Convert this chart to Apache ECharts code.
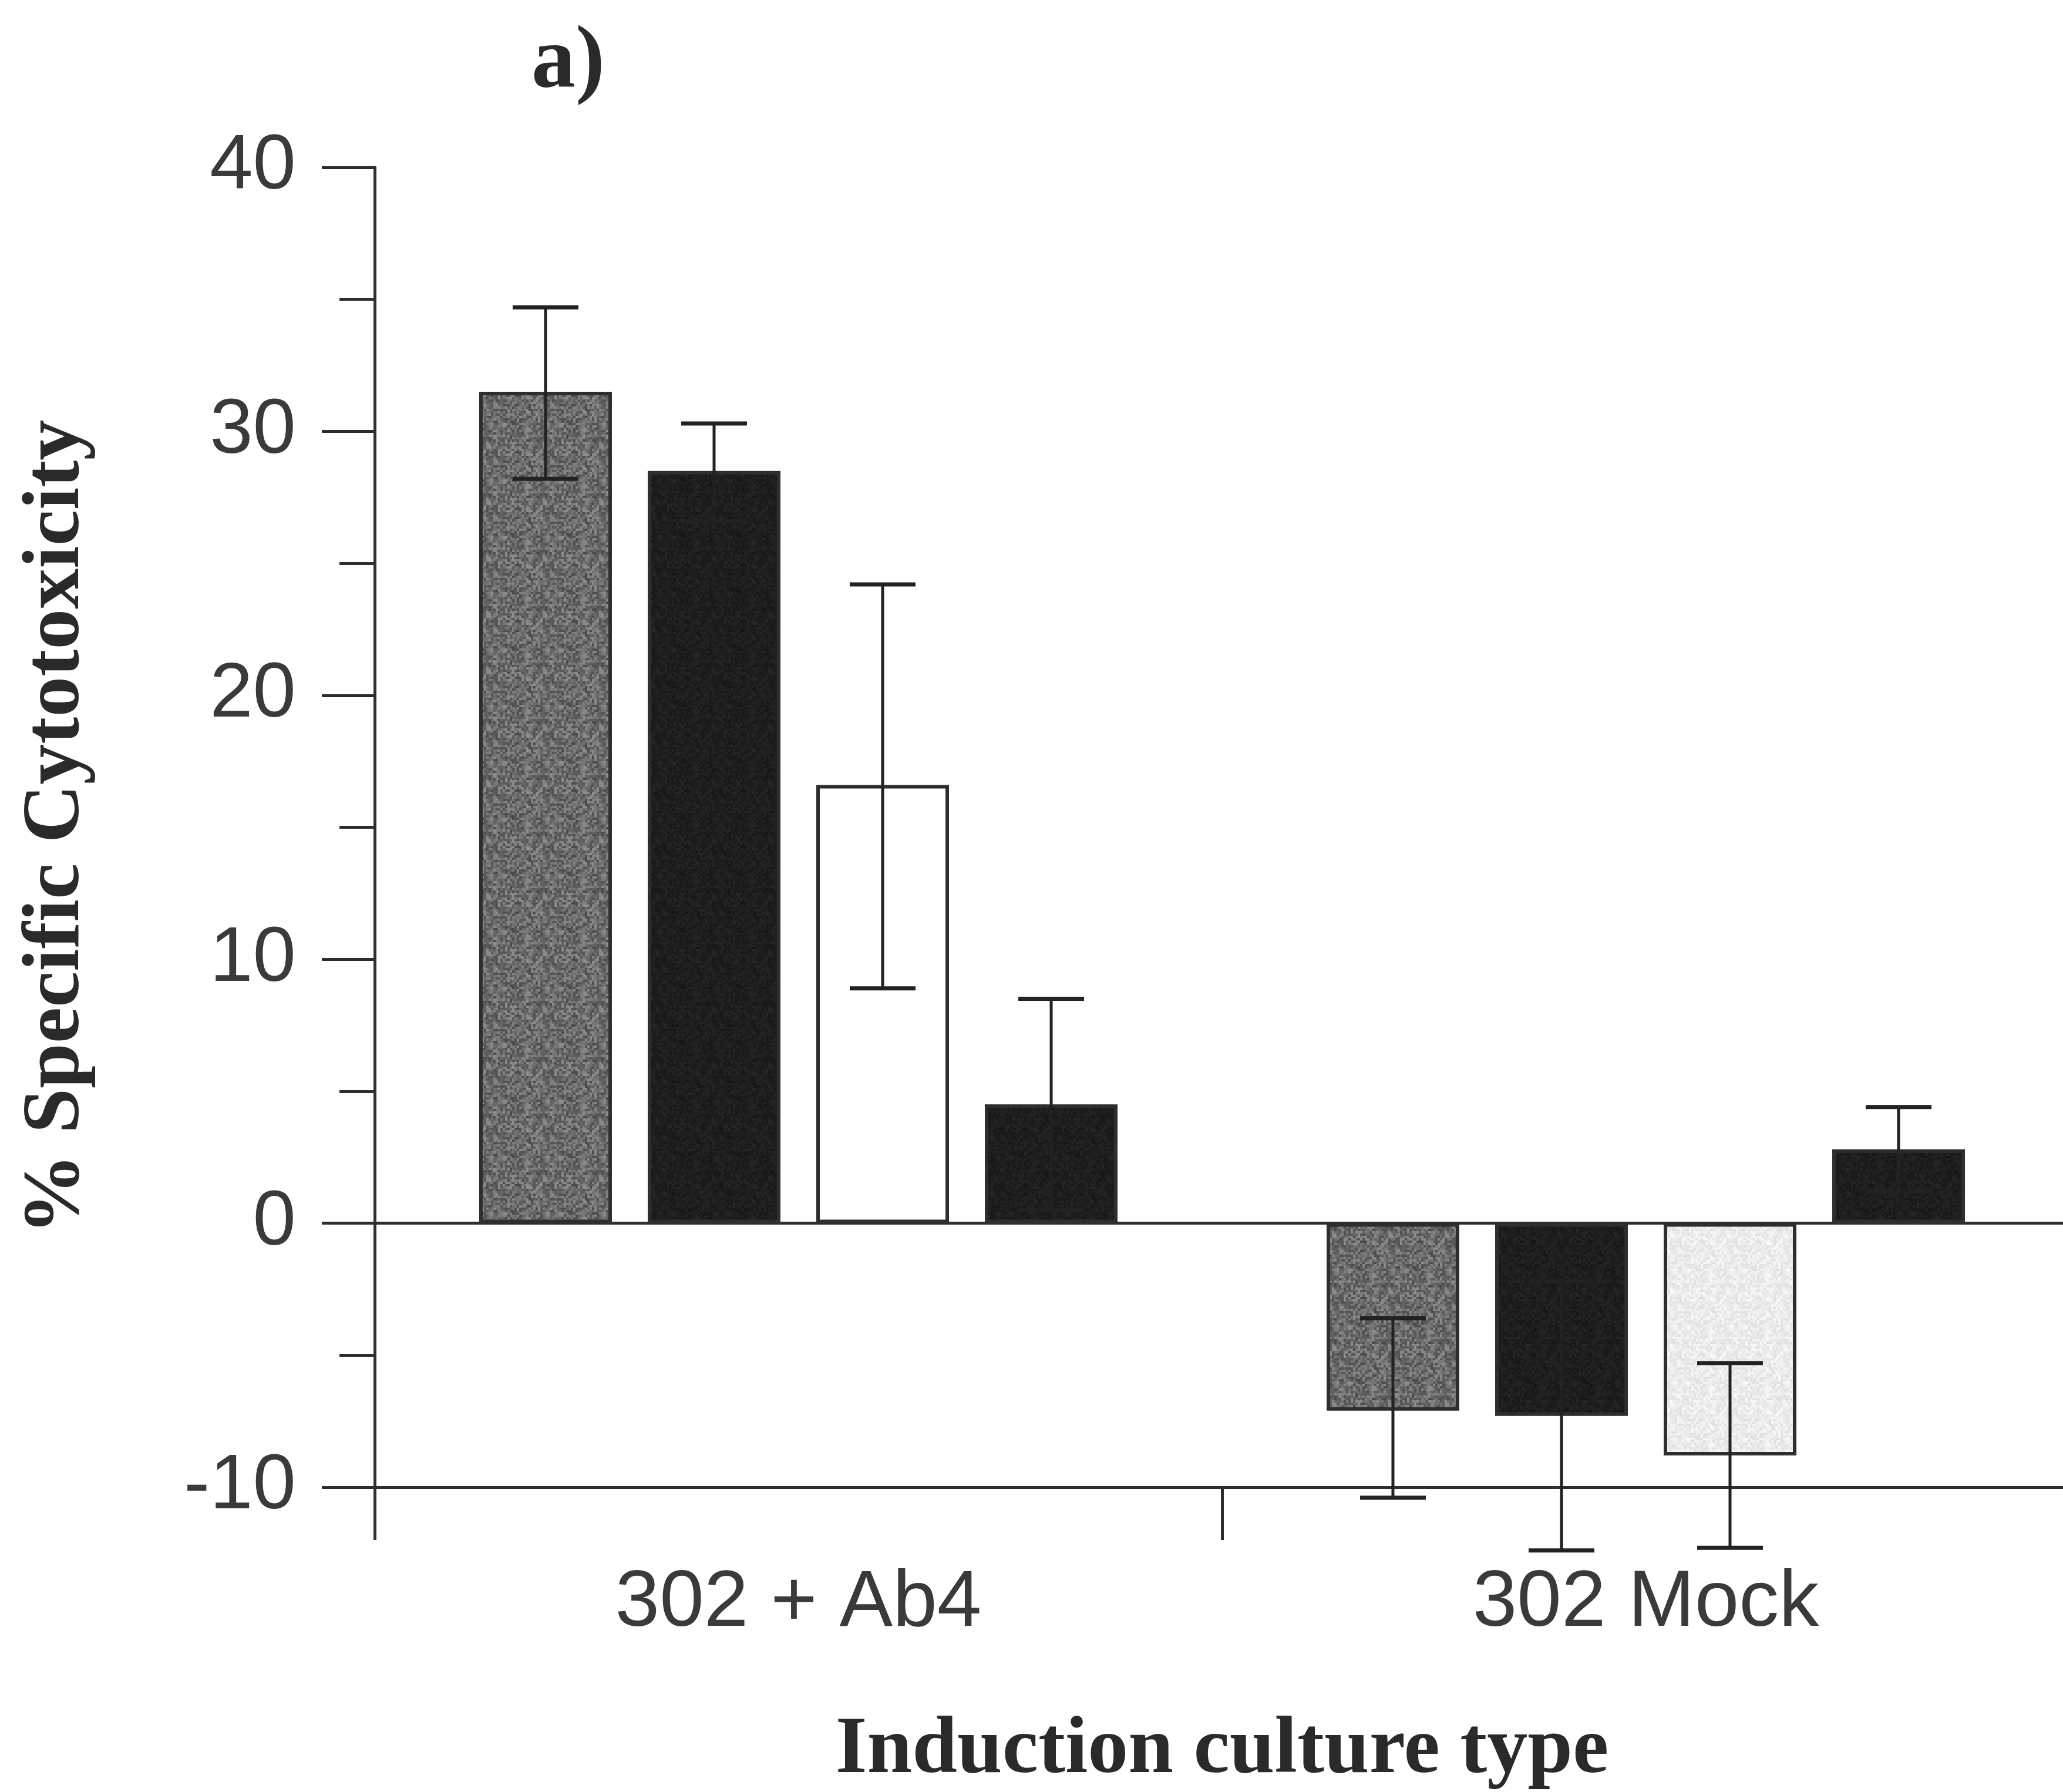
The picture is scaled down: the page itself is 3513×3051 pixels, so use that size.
<!DOCTYPE html>
<html>
<head>
<meta charset="utf-8">
<script src="https://cdn.jsdelivr.net/npm/echarts@6/dist/echarts.min.js"></script>
<style>
html,body{margin:0;padding:0;background:#fff;}
#chart{width:3513px;height:3051px;}
</style>
</head>
<body>
<div id="chart"></div>
<script>
// ---- data ----
const categories = ['302 + Ab4', '302 Mock'];
const yTicks = [-10, 0, 10, 20, 30, 40];
const s1 = [31.5, -7.1];
const s1Hi = [34.7, -3.6];
const s1Lo = [28.2, -10.4];
const s2 = [28.5, -7.3];
const s2Hi = [30.3, -2.2];
const s2Lo = [26.6, -12.4];
const s3 = [16.6, -8.8];
const s3Hi = [24.2, -5.3];
const s3Lo = [8.9, -12.3];
const s4 = [4.5, 2.8];
const s4Hi = [8.5, 4.4];
const s4Lo = [0.5, 1.2];

const seriesVals = [s1, s2, s3, s4];
const seriesHi = [s1Hi, s2Hi, s3Hi, s4Hi];
const seriesLo = [s1Lo, s2Lo, s3Lo, s4Lo];

// ---- style ----
const BAR_W = 226;
const BAR_GAP = 0.27;
const LINE = '#2e2e2e';
const ERR = '#222222';

// scanned-print texture (deterministic, styling only)
function makeTexture(base, spread) {
  const c = document.createElement('canvas');
  c.width = 96; c.height = 96;
  const g = c.getContext('2d');
  let seed = 12345;
  function rnd() { seed = (seed * 16807) % 2147483647; return seed / 2147483647; }
  for (let y = 0; y < 96; y += 4) {
    for (let x = 0; x < 96; x += 4) {
      const v = Math.max(0, Math.min(255, Math.round(base + (rnd() - 0.5) * spread)));
      g.fillStyle = 'rgb(' + v + ',' + v + ',' + v + ')';
      g.fillRect(x, y, 4, 4);
    }
  }
  return c;
}
const grayTex = {image: makeTexture(108, 70), repeat: 'repeat'};
const lightTex = {image: makeTexture(236, 26), repeat: 'repeat'};
const blackTex = {image: makeTexture(30, 14), repeat: 'repeat'};

const fills = [
  [grayTex, grayTex],
  [blackTex, blackTex],
  ['#ffffff', lightTex],
  [blackTex, blackTex]
];

const chart = echarts.init(document.getElementById('chart'), null, {renderer: 'canvas'});

const barSeries = seriesVals.map((vals, si) => ({
  type: 'bar',
  name: 'S' + (si + 1),
  barWidth: BAR_W,
  barGap: (BAR_GAP * 100) + '%',
  data: vals.map((v, ci) => ({
    value: v,
    itemStyle: {color: fills[si][ci], borderColor: LINE, borderWidth: 6}
  })),
  z: 2,
  markLine: si === 0 ? {
    silent: true,
    symbol: ['none', 'none'],
    label: {show: false},
    lineStyle: {color: LINE, width: 5, type: 'solid'},
    data: [{yAxis: 0}],
    z: 1
  } : undefined
}));

const errData = [];
seriesVals.forEach((vals, si) => {
  vals.forEach((v, ci) => {
    errData.push([ci, seriesLo[si][ci], seriesHi[si][ci], si]);
  });
});

const errSeries = {
  type: 'custom',
  name: 'err',
  z: 5,
  data: errData,
  encode: {x: 0, y: [1, 2]},
  renderItem: function (params, api) {
    const ci = api.value(0);
    const lo = api.value(1);
    const hi = api.value(2);
    const si = api.value(3);
    const pLo = api.coord([ci, lo]);
    const pHi = api.coord([ci, hi]);
    const step = BAR_W * (1 + BAR_GAP);
    const x = pLo[0] + (si - 1.5) * step;
    const cap = 56;
    return {
      type: 'group',
      children: [
        {type: 'line', shape: {x1: x, y1: pLo[1], x2: x, y2: pHi[1]}, style: {stroke: ERR, lineWidth: 5}},
        {type: 'line', shape: {x1: x - cap, y1: pHi[1], x2: x + cap, y2: pHi[1]}, style: {stroke: ERR, lineWidth: 7}},
        {type: 'line', shape: {x1: x - cap, y1: pLo[1], x2: x + cap, y2: pLo[1]}, style: {stroke: ERR, lineWidth: 7}}
      ]
    };
  }
};

const option = {
  backgroundColor: '#ffffff',
  animation: false,
  title: {
    text: 'a)',
    left: 900,
    top: 28,
    textStyle: {fontFamily: 'Liberation Serif', fontWeight: 'bold', fontSize: 150, color: '#2a2a2a'}
  },
  grid: {left: 638, right: -11, top: 285, bottom: 519, outerBoundsMode: 'none'},
  xAxis: {
    type: 'category',
    data: categories,
    boundaryGap: true,
    name: 'Induction culture type',
    nameLocation: 'middle',
    nameGap: 380,
    nameTextStyle: {fontFamily: 'Liberation Serif', fontWeight: 'bold', fontSize: 138, color: '#2a2a2a'},
    axisLine: {onZero: false, lineStyle: {color: LINE, width: 5}},
    axisTick: {show: true, alignWithLabel: false, length: 90, lineStyle: {color: LINE, width: 5}},
    axisLabel: {fontFamily: 'Liberation Sans', fontSize: 136, color: '#3a3a3a', margin: 130},
    splitLine: {show: false}
  },
  yAxis: {
    type: 'value',
    min: -10,
    max: 40,
    interval: 10,
    name: '% Specific Cytotoxicity',
    nameLocation: 'middle',
    nameGap: 472,
    nameRotate: 90,
    nameTextStyle: {fontFamily: 'Liberation Serif', fontWeight: 'bold', fontSize: 138, color: '#2a2a2a'},
    axisLine: {show: true, lineStyle: {color: LINE, width: 5}},
    axisTick: {show: true, length: 90, lineStyle: {color: LINE, width: 5}},
    minorTick: {show: true, splitNumber: 2, length: 60, lineStyle: {color: LINE, width: 5}},
    axisLabel: {
      fontFamily: 'Liberation Sans', fontSize: 132, color: '#3a3a3a', margin: 134,
      formatter: function (v) { return yTicks.indexOf(v) >= 0 ? String(v) : ''; }
    },
    splitLine: {show: false}
  },
  series: barSeries.concat([errSeries])
};

chart.setOption(option);
</script>
</body>
</html>
